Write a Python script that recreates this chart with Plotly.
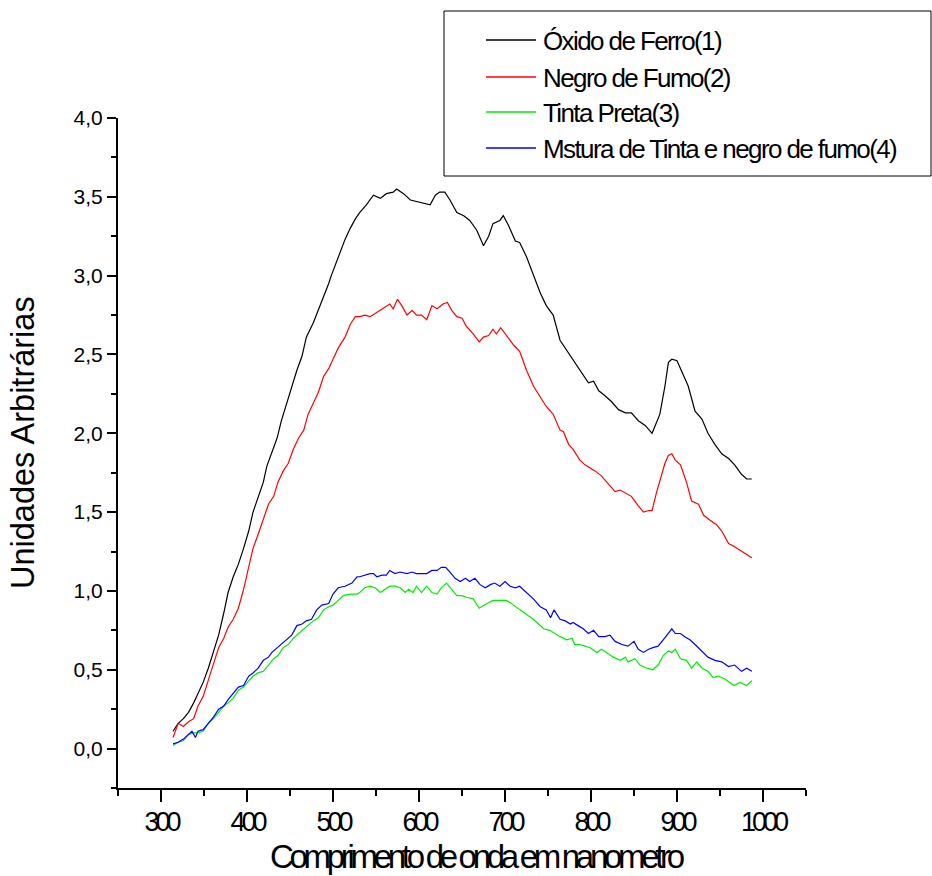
import plotly.graph_objects as go

# Wavelength (nm) and intensity readings for each sample
oxido_x = [314, 320, 326, 332, 338, 343, 349, 355, 361, 367, 373, 378, 384, 390, 396, 402, 407, 413, 419, 423,
           429, 435, 440, 446, 452, 458, 464, 469, 477, 483, 487, 495, 498, 506, 514, 520, 526,
           531, 539, 547, 555, 562, 570, 574, 582, 590, 597, 605, 613, 619, 624, 630, 636, 644, 652, 659,
           667, 675, 681, 686, 694, 698, 704, 712, 717, 725, 733, 741, 748, 756,
           764, 770, 778, 785, 793, 797, 803, 809, 816, 824, 832, 840, 847, 855, 863, 871, 880, 886, 890,
           894, 900, 905, 913, 921, 929, 936, 944, 952, 960, 967, 975, 981, 987]
oxido_y = [0.11, 0.16, 0.19, 0.23, 0.29, 0.35, 0.42, 0.51, 0.61, 0.72, 0.86, 0.99, 1.09, 1.17, 1.27, 1.38, 1.50,
           1.60, 1.69, 1.79, 1.88, 1.97, 2.08, 2.19, 2.30, 2.40, 2.49, 2.61, 2.70, 2.78, 2.84, 2.95, 3.00,
           3.12, 3.23, 3.30, 3.36,
           3.40, 3.45, 3.51, 3.49, 3.52, 3.53, 3.55, 3.52, 3.48, 3.47, 3.46, 3.45, 3.51, 3.53, 3.53, 3.48,
           3.40, 3.38, 3.35, 3.29, 3.19, 3.25, 3.33, 3.35, 3.38, 3.32, 3.22, 3.21, 3.12, 3.00, 2.89, 2.81, 2.75,
           2.59, 2.54, 2.47, 2.42, 2.35, 2.32, 2.33, 2.27, 2.24, 2.20, 2.15, 2.13, 2.13, 2.08, 2.05, 2.00,
           2.12, 2.30, 2.45, 2.47, 2.46, 2.40, 2.30, 2.14, 2.09, 2.00, 1.93, 1.87, 1.84, 1.80, 1.74, 1.71, 1.71]

negro_x = [314, 320, 326, 332, 338, 343, 349, 355, 361, 367, 373, 378, 384, 390, 396, 402, 407, 413, 419, 425,
           431, 436, 442, 448, 454, 460, 466, 471, 477, 483, 489, 495, 500, 506, 514, 520, 526,
           531, 537, 543, 549, 555, 561, 566, 570, 575, 580, 586, 592, 597, 603, 609, 615, 621, 628, 633,
           638, 644, 650, 655, 663, 670, 675, 681, 686, 690, 695, 702, 710, 717, 725, 733, 741, 748, 756,
           764, 768, 774, 779, 787, 793, 799, 805, 812, 820, 828, 834, 840, 847, 855, 861, 867, 871, 876,
           881, 886, 890, 894, 898, 904, 911, 917, 925, 931, 938, 946, 952, 960, 967, 975, 981, 987]
negro_y = [0.07, 0.16, 0.14, 0.17, 0.19, 0.27, 0.33, 0.43, 0.53, 0.64, 0.70, 0.77, 0.82, 0.89, 1.01, 1.15, 1.27,
           1.36, 1.45, 1.55, 1.60, 1.69, 1.76, 1.81, 1.90, 1.97, 2.02, 2.12, 2.19, 2.26, 2.36, 2.41, 2.47,
           2.54, 2.61, 2.69, 2.74,
           2.74, 2.75, 2.74, 2.76, 2.78, 2.80, 2.82, 2.79, 2.85, 2.81, 2.75, 2.78, 2.75, 2.75, 2.72, 2.81,
           2.79, 2.82, 2.83, 2.78, 2.74, 2.73, 2.68, 2.63, 2.58, 2.61, 2.62, 2.66, 2.63, 2.67, 2.62, 2.56,
           2.52, 2.40, 2.30, 2.23, 2.17, 2.12,
           2.02, 2.01, 1.93, 1.90, 1.83, 1.80, 1.78, 1.76, 1.73, 1.68, 1.63, 1.64, 1.62, 1.60, 1.54, 1.50,
           1.51, 1.51, 1.62, 1.71, 1.81, 1.86, 1.87, 1.83, 1.80, 1.69, 1.57, 1.55, 1.48, 1.45, 1.42, 1.38,
           1.30, 1.28, 1.25, 1.23, 1.21]

tinta_x = [314, 320, 326, 332, 338, 343, 349, 355, 361, 367, 373, 378, 384, 390, 396, 402, 407, 413, 419, 425,
           431, 436, 442, 448, 454, 460, 466, 471, 477, 483, 489, 495, 500, 506, 512, 520, 528,
           531, 537, 543, 549, 555, 561, 566, 572, 578, 584, 588, 593, 597, 603, 609, 615, 621, 626, 632,
           638, 644, 650, 655, 663, 670, 679, 686, 694, 702, 710, 717, 725, 733, 741, 745, 752,
           764, 772, 778, 781, 787, 793, 799, 807, 812, 818, 826, 834, 840, 843, 851, 857, 865, 872, 878,
           884, 890, 894, 898, 904, 911, 917, 923, 929, 936, 942, 948, 956, 966, 973, 981, 987]
tinta_y = [0.02, 0.04, 0.05, 0.09, 0.10, 0.10, 0.11, 0.16, 0.19, 0.23, 0.27, 0.29, 0.32, 0.37, 0.39, 0.43, 0.46,
           0.48, 0.49, 0.53, 0.57, 0.59, 0.64, 0.66, 0.70, 0.73, 0.76, 0.78, 0.81, 0.83, 0.88, 0.90, 0.91,
           0.94, 0.97, 0.98, 0.98,
           0.99, 1.02, 1.03, 1.02, 0.99, 1.01, 1.03, 1.03, 1.02, 0.99, 1.01, 0.99, 1.03, 0.99, 1.03, 0.99,
           0.98, 1.02, 1.05, 1.01, 0.97, 0.97, 0.96, 0.95, 0.89, 0.92, 0.94, 0.94, 0.94, 0.91, 0.88, 0.85,
           0.82, 0.78, 0.76, 0.75,
           0.71, 0.69, 0.70, 0.66, 0.66, 0.65, 0.64, 0.61, 0.63, 0.61, 0.58, 0.56, 0.58, 0.55, 0.57, 0.53,
           0.51, 0.50, 0.53, 0.59, 0.62, 0.61, 0.63, 0.57, 0.56, 0.51, 0.55, 0.51, 0.49, 0.45, 0.46, 0.44,
           0.40, 0.42, 0.40, 0.43]

mistura_x = [314, 320, 326, 332, 336, 340, 343, 349, 355, 361, 367, 373, 378, 384, 390, 396, 402, 407, 413, 419,
             425, 429, 435, 440, 446, 452, 458, 464, 469, 475, 481, 487, 495, 500, 506, 514, 522, 528,
             531, 537, 543, 547, 551, 557, 562, 566, 572, 578, 586, 592, 597, 603, 609, 615, 621, 626, 631,
             636, 642, 648, 654, 659, 665, 671, 677, 683, 688, 694, 700, 706, 712, 717, 725, 733, 741, 748,
             753, 757,
             764, 770, 776, 779, 785, 791, 797, 803, 809, 816, 822, 828, 836, 843, 850, 855, 861, 867, 872,
             878, 884, 890, 894, 898, 904, 909, 915, 921, 929, 936, 944, 952, 960, 967, 975, 981, 987]
mistura_y = [0.03, 0.04, 0.06, 0.09, 0.11, 0.07, 0.11, 0.12, 0.16, 0.20, 0.25, 0.27, 0.31, 0.35, 0.39, 0.40,
             0.46, 0.48, 0.51, 0.56, 0.58, 0.61, 0.64, 0.66, 0.69, 0.72, 0.78, 0.79, 0.81, 0.82, 0.88, 0.91,
             0.92, 0.98, 1.02, 1.03, 1.05, 1.09,
             1.09, 1.10, 1.11, 1.11, 1.09, 1.10, 1.10, 1.13, 1.11, 1.12, 1.11, 1.12, 1.11, 1.11, 1.11, 1.13,
             1.13, 1.15, 1.15, 1.12, 1.08, 1.06, 1.08, 1.06, 1.08, 1.04, 1.02, 1.04, 1.05, 1.03, 1.06, 1.03,
             1.02, 1.03, 0.99, 0.95, 0.90, 0.88, 0.83, 0.88,
             0.82, 0.81, 0.79, 0.80, 0.78, 0.76, 0.73, 0.75, 0.71, 0.71, 0.72, 0.68, 0.66, 0.65, 0.68, 0.63,
             0.61, 0.63, 0.64, 0.65, 0.69, 0.73, 0.76, 0.73, 0.73, 0.71, 0.69, 0.66, 0.62, 0.58, 0.56, 0.55,
             0.52, 0.53, 0.49, 0.51, 0.49]

series_names = ["Óxido de Ferro(1)", "Negro de Fumo(2)", "Tinta Preta(3)",
                "Mstura de Tinta e negro de fumo(4)"]
series_colors = ["#000000", "#ff0000", "#00ee00", "#0000ff"]

x_tick_values = [300, 400, 500, 600, 700, 800, 900, 1000]
x_tick_labels = ["300", "400", "500", "600", "700", "800", "900", "1000"]

x_title = "Comprimento de onda em nanometro"
y_title = "Unidades Arbitrárias"

FONT = "Liberation Sans, Arial, sans-serif"


def tight(text, spacing):
    return f'<span style="letter-spacing:{spacing}px">{text}</span>'


fig = go.Figure()
series = [(oxido_x, oxido_y), (negro_x, negro_y), (tinta_x, tinta_y), (mistura_x, mistura_y)]
for (xs, ys), name, color in zip(series, series_names, series_colors):
    fig.add_trace(go.Scatter(x=xs, y=ys, mode="lines", name=name, showlegend=False,
                             line=dict(color=color, width=1.2)))

# Plot area geometry in pixels (used to place the boxed key outside the axes)
W, H = 932, 876
L, R, T, B = 118, 126, 118, 88
pw, ph = W - L - R, H - T - B


def px_x(p):
    return (p - L) / pw


def px_y(p):
    return (H - B - p) / ph


# Boxed key
fig.add_shape(type="rect", xref="paper", yref="paper",
              x0=px_x(444), x1=px_x(931), y0=px_y(176), y1=px_y(11),
              line=dict(color="black", width=1), fillcolor="white", layer="above")
key_rows = [40, 77, 112, 148]
for row, name, color in zip(key_rows, series_names, series_colors):
    fig.add_shape(type="line", xref="paper", yref="paper",
                  x0=px_x(486), x1=px_x(536), y0=px_y(row), y1=px_y(row),
                  line=dict(color=color, width=1.5))
    fig.add_annotation(xref="paper", yref="paper", x=px_x(541), y=px_y(row + 1),
                       xanchor="left", yanchor="middle", showarrow=False,
                       text=tight(name, -1.6), font=dict(family=FONT, size=26, color="black"))

# Axis titles
fig.add_annotation(xref="paper", yref="paper", x=px_x(477), y=px_y(856),
                   xanchor="center", yanchor="middle", showarrow=False,
                   text=tight(x_title, -4.3), font=dict(family=FONT, size=33, color="black"))
fig.add_annotation(xref="paper", yref="paper", x=px_x(23), y=px_y(443),
                   xanchor="center", yanchor="middle", showarrow=False, textangle=-90,
                   text=y_title, font=dict(family=FONT, size=32.5, color="black"))

fig.update_layout(
    width=W, height=H,
    margin=dict(l=L, r=R, t=T, b=B, autoexpand=False),
    paper_bgcolor="white", plot_bgcolor="white",
    separators=",.",
    font=dict(family=FONT, color="black"),
    showlegend=False,
)
fig.update_xaxes(
    range=[250, 1050], showgrid=False, zeroline=False,
    showline=True, linecolor="black", linewidth=2,
    tickmode="array", tickvals=x_tick_values,
    ticktext=[tight(t, -4) for t in x_tick_labels],
    ticks="outside", ticklen=12, tickwidth=2, tickcolor="black",
    tickfont=dict(family=FONT, size=27, color="black"),
    ticklabelstandoff=-3,
    minor=dict(tickmode="linear", tick0=250, dtick=50, ticks="outside",
               ticklen=6, tickwidth=2, tickcolor="black", showgrid=False),
)
fig.update_yaxes(
    range=[-0.25, 4.0], showgrid=False, zeroline=False,
    showline=True, linecolor="black", linewidth=2,
    tickmode="linear", tick0=0, dtick=0.5, tickformat=".1f",
    ticks="outside", ticklen=9, tickwidth=2, tickcolor="black",
    tickfont=dict(family=FONT, size=21, color="black"),
    minor=dict(tickmode="linear", tick0=0, dtick=0.25, ticks="outside",
               ticklen=5, tickwidth=2, tickcolor="black", showgrid=False),
)

fig.write_html("out.html")
